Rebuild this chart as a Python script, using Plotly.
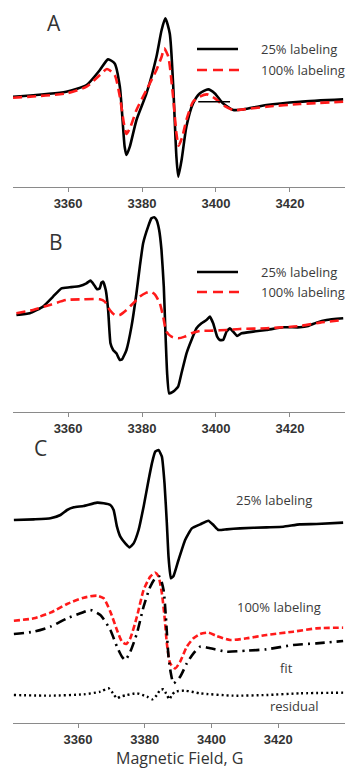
import plotly.graph_objects as go

# ---------------- Data ----------------
# Panel A
a_field_25 = [3345.1, 3359.5, 3365.0, 3368.6, 3370.8, 3372.6, 3374.0, 3375.3, 3375.8, 3376.7, 3378.5,
              3381.2, 3383.9, 3385.3, 3386.3, 3387.5, 3388.4, 3389.3, 3389.8, 3390.7, 3392.0, 3393.8,
              3395.6, 3397.9, 3399.7, 3401.9, 3404.7, 3407.4, 3413.7, 3422.7, 3434.4]
a_sig_25 = [0, 5, 11.7, 26.7, 37.3, 33.3, 10, -50, -58.3, -50, -23.3,
            3.3, 40, 66.7, 78.3, 63.3, 13.3, -60, -80, -63.3, -30, -6.7,
            3.3, 7.3, 3.3, -6.7, -13.3, -12.7, -8.3, -5, -2.7]
a_field_100 = [3345.1, 3359.5, 3365.0, 3368.6, 3370.5, 3372.6, 3374.0, 3375.1, 3375.8, 3376.9, 3378.5,
               3381.2, 3383.9, 3385.3, 3386.0, 3387.1, 3388.4, 3389.3, 3389.9, 3390.9, 3392.0, 3393.8,
               3395.6, 3397.6, 3399.7, 3401.9, 3404.7, 3407.4, 3413.7, 3422.7, 3434.4]
a_sig_100 = [-1, 3.3, 10, 21.7, 27.7, 21.7, 0, -26.7, -37.3, -30, -13.3,
             6.7, 26.7, 40, 48.3, 40, 0, -36.7, -49, -40, -23.3, -5,
             0, 2.3, -1.7, -8.3, -13.3, -12.7, -10, -7.3, -5]
a_seg_field = [3395.2, 3403.8]
a_seg_sig = [-5, -5]

# Panel B
b_zx_25 = [50, 90, 130, 160, 185, 210, 240, 260, 272, 283, 292, 300, 305, 310, 318, 325, 332, 340, 350,
           360, 367, 380, 395, 410, 420, 430, 445, 455, 463, 470, 478, 485, 492, 497, 502, 508, 520,
           535, 545, 560, 575, 590, 605, 620, 630, 640, 652, 660, 670, 680, 690, 700, 712, 725, 760,
           800, 850, 900, 925, 950, 980, 1030]
b_zy_25 = [345, 340, 320, 290, 265, 262, 258, 250, 242, 255, 268, 265, 248, 245, 270, 330, 430, 450, 460,
           480, 478, 450, 380, 280, 200, 130, 80, 55, 52, 60, 90, 150, 260, 400, 520, 580, 575,
           560, 520, 460, 420, 385, 370, 360, 350, 370, 410, 420, 420, 395, 385, 395, 408, 400, 395,
           390, 382, 382, 378, 368, 360, 355]
b_zx_100 = [50, 100, 150, 200, 250, 300, 315, 330, 345, 360, 380, 400, 420, 440, 452, 465, 480, 490, 500,
            515, 535, 555, 575, 600, 640, 680, 720, 800, 900, 960, 1030]
b_zy_100 = [340, 330, 315, 300, 298, 298, 305, 330, 345, 345, 330, 310, 290, 278, 275, 283, 310, 350, 395,
            410, 415, 410, 400, 393, 392, 390, 387, 385, 378, 368, 360]
b_field_25 = [round(3360 + (v - 205) / 11.085, 2) for v in b_zx_25]
b_sig_25 = [round((340 - v) / 3, 2) for v in b_zy_25]
b_field_100 = [round(3360 + (v - 205) / 11.085, 2) for v in b_zx_100]
b_sig_100 = [round((340 - v) / 3, 2) for v in b_zy_100]

# Panel C
c_zx_25 = [40, 100, 150, 180, 200, 220, 250, 290, 310, 330, 340, 350, 360, 375, 388, 400, 415, 430, 445,
           455, 465, 475, 485, 493, 500, 505, 512, 520, 535, 555, 575, 600, 625, 640, 655, 680, 720,
           800, 850, 900, 950, 1030]
c_zy_25 = [270, 268, 265, 255, 240, 232, 228, 218, 220, 225, 240, 290, 320, 340, 352, 340, 300, 230, 150,
           100, 65, 60, 80, 160, 280, 380, 445, 438, 390, 330, 295, 283, 272, 285, 300, 298, 295,
           292, 290, 283, 282, 278]
c_zx_100 = [40, 100, 150, 200, 250, 290, 310, 330, 350, 365, 378, 390, 410, 430, 450, 465, 475, 485, 493,
            500, 510, 525, 540, 560, 580, 600, 625, 650, 690, 740, 800, 880, 950, 1030]
c_zy_100 = [572, 565, 548, 522, 503, 497, 505, 545, 600, 635, 642, 625, 560, 480, 440, 428, 440, 490, 560,
            640, 700, 715, 695, 650, 625, 612, 608, 618, 630, 625, 615, 605, 595, 593]
c_zx_fit = [40, 100, 150, 200, 240, 270, 300, 330, 350, 365, 375, 390, 410, 430, 450, 465, 478, 490, 497,
            505, 512, 520, 540, 560, 580, 600, 630, 680, 740, 800, 880, 950, 1030]
c_zy_fit = [612, 605, 590, 565, 550, 540, 555, 600, 650, 680, 690, 665, 610, 530, 470, 445, 440, 480, 560,
            680, 730, 760, 740, 700, 670, 650, 655, 665, 662, 658, 645, 640, 633]
c_zx_res = [40, 150, 250, 300, 325, 338, 350, 360, 380, 410, 440, 457, 470, 480, 490, 500, 508, 515, 525,
            555, 600, 700, 800, 900, 1030]
c_zy_res = [795, 797, 793, 785, 775, 790, 805, 800, 795, 790, 800, 808, 795, 780, 778, 795, 808, 795, 785,
            782, 790, 797, 795, 790, 788]


def c_field(vals):
    return [round(3360 + (v - 233) / 10.033, 2) for v in vals]


def c_sig(vals):
    return [round((270 - v) / 3, 2) for v in vals]


tick_vals = [3360, 3380, 3400, 3420]
tick_text = ["3360", "3380", "3400", "3420"]
x_title = "Magnetic Field, G"

# ---------------- Figure ----------------
H = 723.0
def dom(top, bot):
    return [(H - bot) / H, (H - top) / H]

BLACK = "black"
RED = "#ff1a1a"
TXT = "#3a3a3a"

fig = go.Figure()
lw = 2.6
fig.add_trace(go.Scatter(x=a_field_25, y=a_sig_25, mode="lines", line=dict(color=BLACK, width=lw, shape="spline", smoothing=0.6), xaxis="x", yaxis="y"))
fig.add_trace(go.Scatter(x=a_field_100, y=a_sig_100, mode="lines", line=dict(color=RED, width=lw, dash="9px,5px", shape="spline", smoothing=0.6), xaxis="x", yaxis="y"))
fig.add_trace(go.Scatter(x=a_seg_field, y=a_seg_sig, mode="lines", line=dict(color=BLACK, width=1.5), xaxis="x", yaxis="y"))

fig.add_trace(go.Scatter(x=b_field_25, y=b_sig_25, mode="lines", line=dict(color=BLACK, width=lw, shape="spline", smoothing=0.4), xaxis="x2", yaxis="y2"))
fig.add_trace(go.Scatter(x=b_field_100, y=b_sig_100, mode="lines", line=dict(color=RED, width=lw, dash="9px,5px", shape="spline", smoothing=0.6), xaxis="x2", yaxis="y2"))

fig.add_trace(go.Scatter(x=c_field(c_zx_25), y=c_sig(c_zy_25), mode="lines", line=dict(color=BLACK, width=lw, shape="spline", smoothing=0.4), xaxis="x3", yaxis="y3"))
fig.add_trace(go.Scatter(x=c_field(c_zx_100), y=c_sig(c_zy_100), mode="lines", line=dict(color=RED, width=lw, dash="6px,3px", shape="spline", smoothing=0.6), xaxis="x3", yaxis="y3"))
fig.add_trace(go.Scatter(x=c_field(c_zx_fit), y=c_sig(c_zy_fit), mode="lines", line=dict(color=BLACK, width=lw, dash="10px,5px,2px,5px", shape="spline", smoothing=0.6), xaxis="x3", yaxis="y3"))
fig.add_trace(go.Scatter(x=c_field(c_zx_res), y=c_sig(c_zy_res), mode="lines", line=dict(color=BLACK, width=2.4, dash="2px,3px", shape="spline", smoothing=0.6), xaxis="x3", yaxis="y3"))

xcommon = dict(showline=True, linecolor="#8a8a8a", linewidth=1, ticks="outside", ticklen=4,
               tickcolor="#8a8a8a", tickvals=tick_vals, ticktext=tick_text, showgrid=False,
               zeroline=False, tickfont=dict(family="Liberation Sans", size=13, color="#333333", weight="bold"))
ycommon = dict(visible=False, showgrid=False, zeroline=False)

fig.update_layout(
    width=351, height=769,
    margin=dict(l=13, r=6, t=0, b=46),
    paper_bgcolor="white", plot_bgcolor="white",
    showlegend=False,
    xaxis=dict(domain=[0, 1], anchor="y", range=[3345.1, 3434.9], **xcommon),
    yaxis=dict(domain=dom(0, 187), anchor="x", range=[-90.3, 96.7], **ycommon),
    xaxis2=dict(domain=[0, 1], anchor="y2", range=[3345.1, 3434.9], **xcommon),
    yaxis2=dict(domain=dom(215, 412), anchor="x2", range=[-98.7, 98.3], **ycommon),
    xaxis3=dict(domain=[0, 1], anchor="y3", range=[3340.5, 3440.0], **xcommon),
    yaxis3=dict(domain=dom(440, 723), anchor="x3", range=[-203, 80], **ycommon),
)

lab_font = dict(family="Open Sans", size=13, color=TXT)
big_font = dict(family="Open Sans", size=21, color="#333333")

def px2paper(px):
    return (px - 13) / 332.0

# x-axis title of bottom panel
fig.add_annotation(text=x_title, xref="paper", yref="paper", x=0.5, y=-46.5 / H, xanchor="center",
                   yanchor="bottom", showarrow=False, borderpad=0,
                   font=dict(family="Open Sans", size=16, color="#333333"))

# Legend A / B (drawn manually)
for yref, yb, yr in [("y", 47.7, 26.7), ("y2", 41.3, 21.3)]:
    fig.add_shape(type="line", xref="paper", yref=yref, x0=px2paper(197), x1=px2paper(238), y0=yb, y1=yb,
                  line=dict(color=BLACK, width=lw))
    fig.add_shape(type="line", xref="paper", yref=yref, x0=px2paper(197), x1=px2paper(240), y0=yr, y1=yr,
                  line=dict(color=RED, width=lw, dash="10px,6px"))
    fig.add_annotation(text="25% labeling", xref="paper", yref=yref, x=px2paper(259), y=yb, xanchor="left",
                       yanchor="middle", showarrow=False, font=lab_font)
    fig.add_annotation(text="100% labeling", xref="paper", yref=yref, x=px2paper(259), y=yr, xanchor="left",
                       yanchor="middle", showarrow=False, font=lab_font)

fig.add_annotation(text="A", xref="paper", yref="y", x=px2paper(45), y=73.7, showarrow=False, font=big_font)
fig.add_annotation(text="B", xref="paper", yref="y2", x=px2paper(47), y=71.3, showarrow=False, font=big_font)
fig.add_annotation(text="C", xref="paper", yref="y3", x=px2paper(32), y=72, showarrow=False, font=big_font)

for txt, gx, gy in [("25% labeling", 3418.7, 20), ("100% labeling", 3420.2, -87), ("fit", 3422.5, -148),
                    ("residual", 3425.0, -186)]:
    fig.add_annotation(text=txt, xref="x3", yref="y3", x=gx, y=gy, showarrow=False, font=lab_font)

fig.write_html("out.html")
